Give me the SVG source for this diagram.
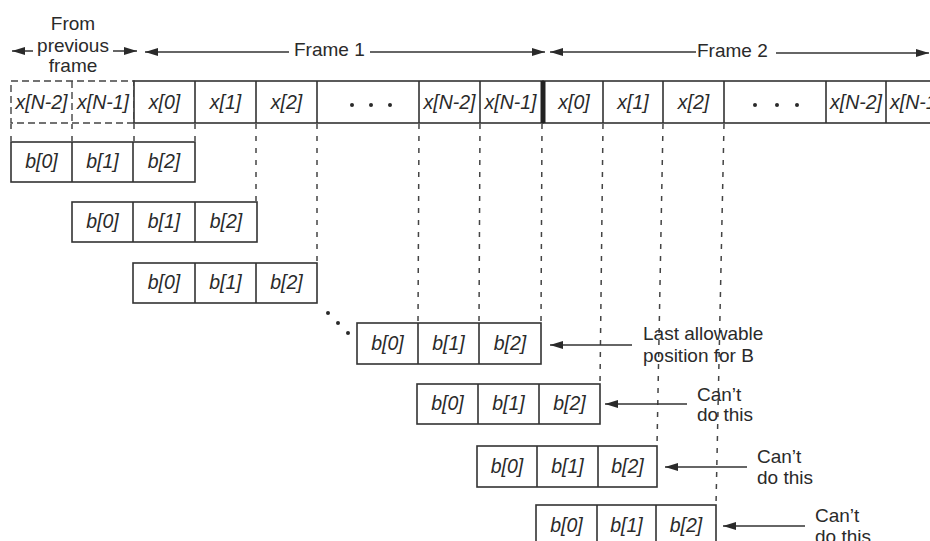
<svg xmlns="http://www.w3.org/2000/svg" width="930" height="541" viewBox="0 0 930 541">
<defs>
<marker id="ah" viewBox="0 0 13 8" refX="13" refY="4" markerWidth="13" markerHeight="8" markerUnits="userSpaceOnUse" orient="auto-start-reverse">
<path d="M0,0 L13,4 L0,8 z" fill="#2a2a2a"/>
</marker>
<style>
.cell{fill:#fff;stroke:#333;stroke-width:1.6}
.dbox{fill:none;stroke:#444;stroke-width:1.4;stroke-dasharray:7 4}
.div{stroke:#333;stroke-width:1.6}
.vd{stroke:#444;stroke-width:1.5;stroke-dasharray:5 7;fill:none}
.ar{stroke:#333;stroke-width:1.5;fill:none}
.ci{font-family:"Liberation Sans",Arial,sans-serif;font-size:19.5px;font-style:italic;fill:#2a2a2a;text-anchor:middle}
.lb{font-family:"Liberation Sans",Arial,sans-serif;font-size:19px;fill:#2a2a2a}
.dot{fill:#2a2a2a}
</style>
</defs>
<rect width="930" height="541" fill="#fff"/>

<g id="connectors">
<path class="ar" d="M33,51 L12,51" marker-end="url(#ah)"/>
<path class="ar" d="M113,51 L137,51" marker-end="url(#ah)"/>
<path class="ar" d="M289,52 L145,52" marker-end="url(#ah)"/>
<path class="ar" d="M370,52 L545,52" marker-end="url(#ah)"/>
<path class="ar" d="M696,52 L550,52" marker-end="url(#ah)"/>
<path class="ar" d="M776,53 L929,53" marker-end="url(#ah)"/>
<path class="vd" d="M11,124 V142 M72,124 V142 M134,124 V142 M195,124 V142 M256,124 V202 M317,124 V263 M419,124 L418,323 M480,124 L479,323 M542,124 L541,323 M603,124 L600,384 M663,124 L657,446 M724,124 L716,505"/>
<path class="ar" d="M632,345 L550,345" marker-end="url(#ah)"/>
<path class="ar" d="M687,404 L605,404" marker-end="url(#ah)"/>
<path class="ar" d="M747,467 L665,467" marker-end="url(#ah)"/>
<path class="ar" d="M805,526 L723,526" marker-end="url(#ah)"/>
</g>

<g id="labels-top">
<text class="lb" x="73" y="30" text-anchor="middle">From</text>
<text class="lb" x="73" y="52" text-anchor="middle">previous</text>
<text class="lb" x="73" y="72" text-anchor="middle">frame</text>
<text class="lb" x="294" y="56">Frame 1</text>
<text class="lb" x="697" y="57">Frame 2</text>
</g>

<g id="prev-frame">
<rect class="dbox" x="11" y="81" width="123" height="42"/>
<line class="dbox" x1="72" y1="81" x2="72" y2="123"/>
<text class="ci" x="41.5" y="109">x[N-2]</text>
<text class="ci" x="103" y="109">x[N-1]</text>
</g>

<g id="frame1">
<rect class="cell" x="134" y="81" width="409" height="42"/>
<path class="div" d="M195,81 V123 M256,81 V123 M317,81 V123 M419,81 V123 M480,81 V123"/>
<text class="ci" x="164.5" y="109">x[0]</text>
<text class="ci" x="225.5" y="109">x[1]</text>
<text class="ci" x="286.5" y="109">x[2]</text>
<circle class="dot" cx="352" cy="105" r="2"/>
<circle class="dot" cx="371" cy="105" r="2"/>
<circle class="dot" cx="390" cy="105" r="2"/>
<text class="ci" x="449.5" y="109">x[N-2]</text>
<text class="ci" x="510.5" y="109">x[N-1]</text>
</g>

<g id="frame2">
<rect class="cell" x="543" y="81" width="400" height="42"/>
<path class="div" d="M603,81 V123 M663,81 V123 M724,81 V123 M826,81 V123 M886,81 V123"/>
<text class="ci" x="574" y="109">x[0]</text>
<text class="ci" x="633" y="109">x[1]</text>
<text class="ci" x="693.5" y="109">x[2]</text>
<circle class="dot" cx="755" cy="105" r="2"/>
<circle class="dot" cx="777" cy="105" r="2"/>
<circle class="dot" cx="797" cy="105" r="2"/>
<text class="ci" x="856" y="109">x[N-2]</text>
<text class="ci" x="916" y="109">x[N-1]</text>
</g>
<line x1="543" y1="81" x2="543" y2="123" stroke="#222" stroke-width="5"/>

<g id="b-row1">
<rect class="cell" x="11" y="142" width="184" height="40"/>
<path class="div" d="M72,142 V182 M133,142 V182"/>
<text class="ci" x="41.5" y="168">b[0]</text>
<text class="ci" x="102.5" y="168">b[1]</text>
<text class="ci" x="164" y="168">b[2]</text>
</g>

<g id="b-row2">
<rect class="cell" x="72" y="202" width="185" height="40"/>
<path class="div" d="M133,202 V242 M195,202 V242"/>
<text class="ci" x="102.5" y="228">b[0]</text>
<text class="ci" x="164" y="228">b[1]</text>
<text class="ci" x="226" y="228">b[2]</text>
</g>

<g id="b-row3">
<rect class="cell" x="133" y="263" width="184" height="40"/>
<path class="div" d="M195,263 V303 M256,263 V303"/>
<text class="ci" x="164" y="289">b[0]</text>
<text class="ci" x="225.5" y="289">b[1]</text>
<text class="ci" x="286.5" y="289">b[2]</text>
</g>

<g id="ellipsis">
<circle class="dot" cx="328" cy="313" r="2"/>
<circle class="dot" cx="338" cy="323" r="2"/>
<circle class="dot" cx="348" cy="333" r="2"/>
</g>

<g id="b-row4">
<rect class="cell" x="357" y="323" width="184" height="41"/>
<path class="div" d="M418,323 V364 M479,323 V364"/>
<text class="ci" x="387.5" y="350">b[0]</text>
<text class="ci" x="448.5" y="350">b[1]</text>
<text class="ci" x="510" y="350">b[2]</text>
<text class="lb" x="643" y="340">Last allowable</text>
<text class="lb" x="643" y="362">position for B</text>
</g>

<g id="b-row5">
<rect class="cell" x="417" y="384" width="183" height="40"/>
<path class="div" d="M478,384 V424 M539,384 V424"/>
<text class="ci" x="447.5" y="410">b[0]</text>
<text class="ci" x="508.5" y="410">b[1]</text>
<text class="ci" x="569.5" y="410">b[2]</text>
<text class="lb" x="697" y="401">Can’t</text>
<text class="lb" x="697" y="421">do this</text>
</g>

<g id="b-row6">
<rect class="cell" x="477" y="446" width="180" height="41"/>
<path class="div" d="M537,446 V487 M598,446 V487"/>
<text class="ci" x="507" y="473">b[0]</text>
<text class="ci" x="567.5" y="473">b[1]</text>
<text class="ci" x="627.5" y="473">b[2]</text>
<text class="lb" x="757" y="463">Can’t</text>
<text class="lb" x="757" y="484">do this</text>
</g>

<g id="b-row7">
<rect class="cell" x="536" y="505" width="180" height="42"/>
<path class="div" d="M597,505 V547 M656,505 V547"/>
<text class="ci" x="566.5" y="532">b[0]</text>
<text class="ci" x="626.5" y="532">b[1]</text>
<text class="ci" x="686" y="532">b[2]</text>
<text class="lb" x="815" y="522">Can’t</text>
<text class="lb" x="815" y="543">do this</text>
</g>
</svg>
